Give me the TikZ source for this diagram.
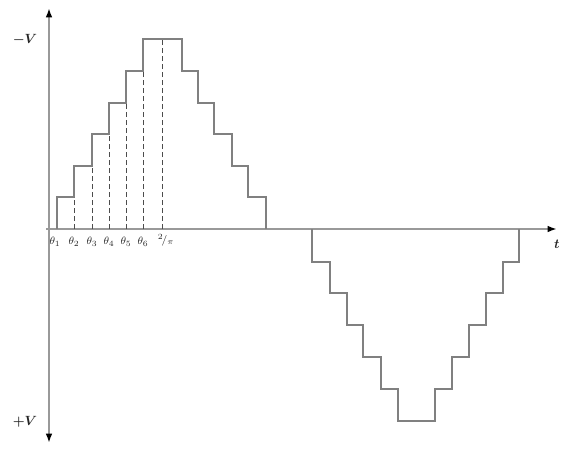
\documentclass[tikz,border=0pt]{standalone}
\usepackage{amsmath}
\usepackage{tikz}
\usetikzlibrary{arrows.meta}

\begin{document}
\begin{tikzpicture}[x=0.75pt,y=-0.75pt,
  axis/.style={draw=black!40,line width=1.6pt,-{Latex[black,length=7pt,width=5pt]}},
  wave/.style={draw=black!50,line width=0.9pt},
  guide/.style={draw=black!70,line width=0.5pt,dash pattern=on 3.5pt off 2.5pt},
  lbl/.style={text=black!85,inner sep=0pt},
  ang/.style={lbl,font=\footnotesize}]
\useasboundingbox (0,0) rectangle (564,451);
\coordinate (O) at (49,229);
\coordinate (ytop) at (49,8);
\coordinate (ybot) at (49,443);
\coordinate (xl) at (46,229);
\coordinate (xr) at (557,229);
% axes
\draw[axis] (O) -- (ytop);
\draw[axis] (O) -- (ybot);
\draw[axis] (xl) -- (xr);
% positive half
\draw[wave] (57,229) -- (57,197) -- (74,197) -- (74,166) -- (92,166) -- (92,134) -- (109,134) -- (109,103) -- (126,103) -- (126,71) -- (143,71) -- (143,39) -- (182,39) -- (182,71) -- (198,71) -- (198,103) -- (214,103) -- (214,134) -- (232,134) -- (232,166) -- (248,166) -- (248,197) -- (266,197) -- (266,229);
% negative half
\draw[wave] (312,229) -- (312,262) -- (330,262) -- (330,293) -- (347,293) -- (347,325) -- (363,325) -- (363,357) -- (381,357) -- (381,389) -- (398,389) -- (398,421) -- (435,421) -- (435,389) -- (452,389) -- (452,357) -- (469,357) -- (469,325) -- (486,325) -- (486,293) -- (503,293) -- (503,262) -- (519,262) -- (519,229);
% switching angles
\draw[guide] (74,229) -- (74,197);
\draw[guide] (92,229) -- (92,166);
\draw[guide] (109,229) -- (109,134);
\draw[guide] (126,229) -- (126,103);
\draw[guide] (143,229) -- (143,71);
\draw[guide] (162.5,229) -- (162.5,39);
\node[ang] (th1) at (55,242) {$\theta_1$};
\node[ang] (th2) at (74,242) {$\theta_2$};
\node[ang] (th3) at (92,242) {$\theta_3$};
\node[ang] (th4) at (109,242) {$\theta_4$};
\node[ang] (th5) at (126,242) {$\theta_5$};
\node[ang] (th6) at (143,242) {$\theta_6$};
\node[ang] (half) at (166,240) {${}^{2}\!/_{\pi}$};
\node[lbl] (vneg) at (25,40) {$\boldsymbol{-V}$};
\node[lbl] (vpos) at (25,422) {$\boldsymbol{+V}$};
\node[lbl] (tlab) at (557,244) {$\boldsymbol{t}$};
\end{tikzpicture}
\end{document}
